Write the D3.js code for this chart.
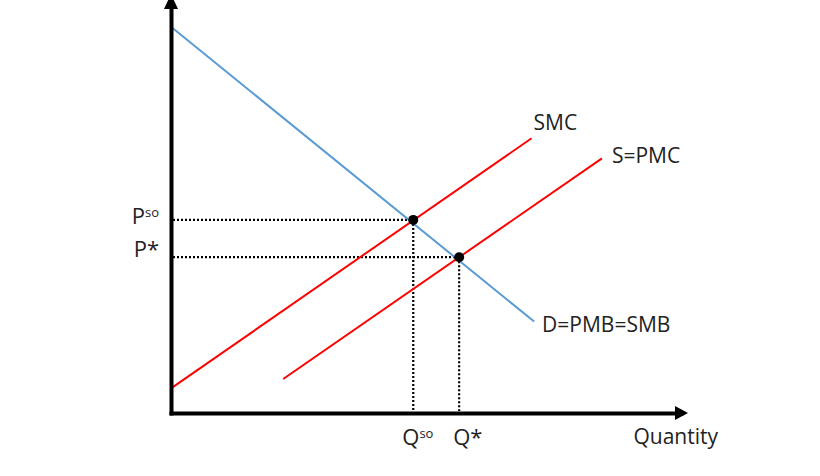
<!DOCTYPE html>
<meta charset="utf-8">
<style>
  body { margin: 0; background: #fff; }
  text { font-family: "Open Sans", sans-serif; fill: #222; }
</style>
<script src="https://d3js.org/d3.v7.min.js"></script>
<div id="chart"></div>
<script>
// curve end points, in quantity / price units
var demand = [[0, 9.42], [7.12, 2.23]];
var smc = [[0, 0.60], [7.07, 6.70]];
var pmc = [[2.20, 0.83], [8.45, 6.21]];

// equilibria: socially optimal and market
var eqNames = ["so", "*"];
var eqQ = [4.75, 5.65];
var eqP = [4.71, 3.80];

var curveLabels = ["SMC", "S=PMC", "D=PMB=SMB"];

var width = 820, height = 476;

var svg = d3.select("#chart").append("svg")
    .attr("width", width)
    .attr("height", height);

var x = d3.scaleLinear().domain([0, 10]).range([171, 681]);
var y = d3.scaleLinear().domain([0, 10]).range([413, 3]);

var line = d3.line()
    .x(function(d) { return x(d[0]); })
    .y(function(d) { return y(d[1]); });

// dotted guides
eqQ.forEach(function(q, i) {
  svg.append("line")
      .attr("x1", x(0) + 2).attr("x2", x(q))
      .attr("y1", y(eqP[i])).attr("y2", y(eqP[i]))
      .attr("stroke", "#000").attr("stroke-width", 2.2)
      .attr("stroke-dasharray", "2,2");
  svg.append("line")
      .attr("x1", x(q)).attr("x2", x(q))
      .attr("y1", y(eqP[i])).attr("y2", y(0) - 2)
      .attr("stroke", "#000").attr("stroke-width", 2.2)
      .attr("stroke-dasharray", "2,2");
});

// curves
svg.append("path").datum(demand)
    .attr("d", line).attr("fill", "none")
    .attr("stroke", "#5b9bd5").attr("stroke-width", 2);
svg.append("path").datum(smc)
    .attr("d", line).attr("fill", "none")
    .attr("stroke", "#ff0000").attr("stroke-width", 2);
svg.append("path").datum(pmc)
    .attr("d", line).attr("fill", "none")
    .attr("stroke", "#ff0000").attr("stroke-width", 2);

// axes, no ticks
svg.append("g")
    .attr("transform", "translate(0," + y(0) + ")")
    .call(d3.axisBottom(x).tickValues([]).tickSizeOuter(0));
svg.append("g")
    .attr("transform", "translate(" + x(0) + ",0)")
    .call(d3.axisLeft(y).tickValues([]).tickSizeOuter(0));
svg.selectAll(".domain")
    .attr("stroke", "#000").attr("stroke-width", 4)
    .attr("stroke-linecap", "square");

// arrow heads
var xe = x(10), ye = y(10);
svg.append("path")
    .attr("d", "M" + (xe - 6) + "," + (y(0) - 7) + "L" + (xe + 7) + "," + y(0) + "L" + (xe - 6) + "," + (y(0) + 7) + "Z")
    .attr("fill", "#000");
svg.append("path")
    .attr("d", "M" + (x(0) - 7) + "," + (ye + 6) + "L" + x(0) + "," + (ye - 9) + "L" + (x(0) + 7) + "," + (ye + 6) + "Z")
    .attr("fill", "#000");

// equilibrium dots
svg.selectAll("circle.eq")
  .data(eqQ)
  .enter().append("circle")
    .attr("class", "eq")
    .attr("cx", function(d) { return x(d); })
    .attr("cy", function(d, i) { return y(eqP[i]); })
    .attr("r", 5)
    .attr("fill", "#000");

// curve labels
var ends = [smc[1], pmc[1], demand[1]];
var offs = [[2, -8], [10, 5], [8, 10]];
curveLabels.forEach(function(t, i) {
  svg.append("text")
      .attr("x", x(ends[i][0]) + offs[i][0])
      .attr("y", y(ends[i][1]) + offs[i][1])
      .attr("font-size", 21)
      .text(t);
});

// price labels
eqNames.forEach(function(n, i) {
  var t = svg.append("text")
      .attr("x", x(0) - 12)
      .attr("y", y(eqP[i]) + (n === "so" ? 4 : 0))
      .attr("text-anchor", "end")
      .attr("font-size", 22);
  t.append("tspan").text("P");
  if (n === "so") {
    t.append("tspan").attr("font-size", 13).attr("dy", -7).text(n);
  } else {
    t.append("tspan").text(n);
  }
});

// quantity labels
eqNames.forEach(function(n, i) {
  var t = svg.append("text")
      .attr("x", x(eqQ[i]) - (n === "so" ? 11 : 6))
      .attr("y", y(0) + 32)
      .attr("font-size", 22);
  t.append("tspan").text("Q");
  if (n === "so") {
    t.append("tspan").attr("font-size", 13).attr("dy", -7).text(n);
  } else {
    t.append("tspan").text(n);
  }
});

svg.append("text")
    .attr("x", x(10) + 37)
    .attr("y", y(0) + 31)
    .attr("text-anchor", "end")
    .attr("font-size", 21)
    .text("Quantity");
</script>
